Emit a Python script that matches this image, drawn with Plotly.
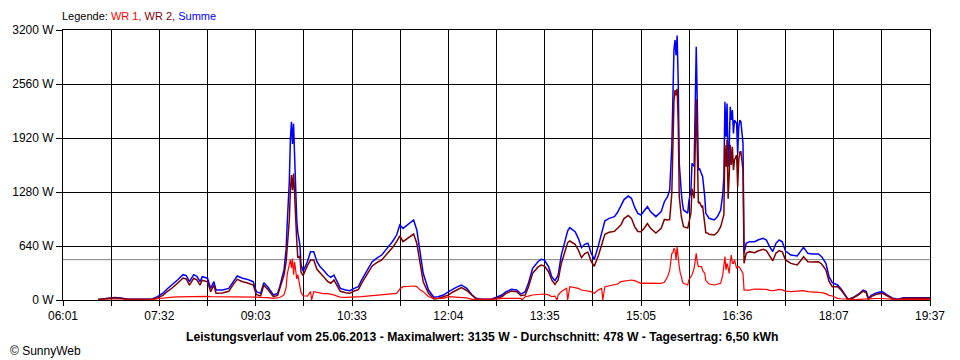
import plotly.graph_objects as go

# ---- data ----
times = ["06:34","06:43","06:50","06:55","07:02","07:16","07:25","07:30","07:35","07:39",
         "07:44","07:49","07:54","07:57","08:00","08:04","08:07","08:10","08:12","08:17",
         "08:20","08:23","08:25","08:31","08:37","08:41","08:45","08:50","08:54","09:00",
         "09:03","09:07","09:10","09:14","09:19","09:23","09:25","09:29","09:31","09:32",
         "09:34","09:35","09:36","09:37","09:38","09:39","09:40","09:41","09:42","09:44",
         "09:45","09:47","09:51","09:54","09:55","09:57","10:00","10:03","10:06","10:10",
         "10:13","10:16","10:19","10:22","10:27","10:31","10:35","10:39","10:42","10:47",
         "10:52","10:56","11:01","11:06","11:11","11:15","11:18","11:21","11:25","11:28",
         "11:31","11:34","11:37","11:40","11:45","11:50","11:54","11:59","12:04","12:08",
         "12:11","12:16","12:21","12:26","12:30","12:35","12:44","12:49","12:54","12:58",
         "13:03","13:08","13:12","13:13","13:16","13:19","13:23","13:28","13:31","13:34",
         "13:38","13:41","13:44","13:46","13:47","13:50","13:55","13:56","13:58","14:03",
         "14:06","14:09","14:12","14:15","14:18","14:21","14:25","14:28","14:29","14:31",
         "14:35","14:40","14:43","14:46","14:49","14:53","14:56","14:59","15:02","15:05",
         "15:08","15:11","15:14","15:19","15:24","15:27","15:30","15:32","15:34","15:35",
         "15:36","15:37","15:38","15:39","15:40","15:41","15:42","15:43","15:44","15:45",
         "15:49","15:50","15:52","15:53","15:55","15:57","15:58","15:59","16:00","16:02",
         "16:03","16:05","16:06","16:08","16:09","16:14","16:17","16:20","16:22","16:23",
         "16:24","16:25","16:26","16:27","16:28","16:29","16:30","16:31","16:32","16:33",
         "16:35","16:36","16:37","16:38","16:39","16:41","16:42","16:44","16:47","16:52",
         "16:55","17:00","17:03","17:06","17:09","17:12","17:15","17:18","17:21","17:26",
         "17:32","17:35","17:38","17:42","17:46","17:52","17:55","17:59","18:02","18:05",
         "18:10","18:13","18:17","18:20","18:25","18:30","18:34","18:37","18:39","18:42",
         "18:47","18:52","18:57","19:02","19:07","19:12","19:18","19:28","19:37"]

wr1 = [0,0,3,3,0,0,2,15,25,30,
       35,38,40,40,40,42,42,40,42,42,
       40,40,38,35,35,38,40,42,42,40,
       35,30,30,28,20,25,30,60,150,300,
       450,480,380,490,300,450,350,250,300,130,
       90,50,47,99,0,99,90,80,75,75,
       70,60,45,35,32,32,32,35,39,45,
       50,55,59,65,72,79,130,158,160,166,
       166,158,120,99,39,20,20,20,39,35,
       32,32,25,8,8,5,5,10,20,20,
       20,20,20,0,39,45,59,65,68,71,
       60,39,45,0,59,100,138,0,158,150,
       138,118,110,105,99,80,120,138,0,158,
       166,175,190,217,225,230,237,230,215,197,
       200,200,197,195,197,210,276,350,553,560,
       612,593,474,632,474,395,316,280,217,197,
       178,237,276,300,375,553,450,395,395,395,
       350,316,230,197,190,178,185,197,300,450,
       514,356,435,380,316,450,533,435,435,474,
       375,395,395,380,356,316,118,118,118,130,
       130,130,126,115,110,118,126,120,105,99,
       105,110,110,99,95,92,87,75,55,47,
       20,15,10,5,5,8,12,14,14,16,
       18,18,12,6,4,8,8,8,8]

wr2 = [5,15,27,22,8,8,10,25,55,100,
       145,202,260,250,177,258,238,177,234,216,
       98,177,80,83,103,179,244,216,205,177,
       63,49,175,122,39,54,128,295,450,600,
       950,1300,1480,1300,1500,1250,914,700,500,520,
       330,290,407,474,474,474,364,315,280,221,
       199,236,172,103,86,79,106,123,198,310,
       404,439,474,547,619,691,759,691,729,762,
       782,672,433,217,79,12,19,39,60,95,
       118,146,113,51,12,5,5,22,39,79,
       106,98,51,55,60,152,316,389,414,403,
       335,237,184,220,237,433,652,680,699,660,
       593,502,550,567,461,400,530,662,720,780,
       802,813,850,889,965,1002,968,870,812,810,
       850,906,850,793,850,955,948,953,1264,1849,
       2351,2487,2426,2503,2133,1225,1084,984,929,870,
       852,928,1028,1320,1205,2380,1861,1146,1165,1106,
       1112,909,797,793,778,770,803,870,964,1011,
       1836,1579,1895,1200,1484,1841,1600,1817,1540,1659,
       1718,1343,1659,1753,1757,1541,435,554,573,561,
       581,601,585,517,465,554,585,570,475,434,
       416,463,514,454,450,453,427,359,221,158,
       158,123,49,3,27,63,106,85,6,43,
       69,81,47,14,4,20,20,20,20]

summe = [5,15,30,25,8,8,12,40,80,130,
         180,240,300,290,217,300,280,217,276,258,
         138,217,118,118,138,217,284,258,247,217,
         98,79,205,150,59,79,158,355,600,900,
         1400,1900,2113,1850,2090,1700,1264,950,800,650,
         420,340,454,573,573,573,454,395,355,296,
         269,296,217,138,118,111,138,158,237,355,
         454,494,533,612,691,770,889,849,889,928,
         948,830,553,316,118,32,39,59,99,130,
         150,178,138,59,20,10,10,32,59,99,
         126,118,71,75,99,197,375,454,482,474,
         395,276,229,270,296,533,790,820,857,810,
         731,620,660,672,560,480,650,800,870,938,
         968,988,1040,1106,1190,1232,1205,1100,1027,1007,
         1050,1106,1047,988,1047,1165,1224,1303,1817,2409,
         2963,3080,2900,3135,2607,1620,1400,1264,1146,1067,
         1030,1165,1304,1620,1580,3002,2311,1541,1560,1501,
         1462,1225,1027,990,968,948,988,1067,1264,1461,
         2350,1935,2330,1580,1800,2291,2133,2252,1975,2133,
         2093,1738,2054,2133,2113,1857,553,672,691,691,
         711,731,711,632,575,672,711,690,580,533,
         521,573,624,553,545,545,514,434,276,205,
         178,138,59,8,32,71,118,99,20,59,
         87,99,59,20,8,28,28,28,28]

average_w = 478
y_ticks = [0, 640, 1280, 1920, 2560, 3200]
y_labels = ["0 W", "640 W", "1280 W", "1920 W", "2560 W", "3200 W"]
x_labels = ["06:01", "", "07:32", "", "09:03", "", "10:33", "", "12:04", "",
            "13:35", "", "15:05", "", "16:36", "", "18:07", "", "19:37"]
title_text = ("Leistungsverlauf vom 25.06.2013 - Maximalwert: 3135 W - "
              "Durchschnitt: 478 W - Tagesertrag: 6,50 kWh")


def to_min(s):
    h, m = s.split(":")
    return int(h) * 60 + int(m)


x = [to_min(t) for t in times]
x_start, x_end = to_min(x_labels[0]), to_min(x_labels[-1])
n_grid = len(x_labels) - 1
x_ticks = [x_start + i * (x_end - x_start) / n_grid for i in range(n_grid + 1)]

FONT = "Liberation Sans, Arial, sans-serif"

fig = go.Figure()
fig.add_trace(go.Scatter(x=x, y=summe, mode="lines", name="Summe",
                         line=dict(color="#0000FF", width=1.5)))
fig.add_trace(go.Scatter(x=x, y=wr2, mode="lines", name="WR 2",
                         line=dict(color="#800000", width=1.5)))
fig.add_trace(go.Scatter(x=x, y=wr1, mode="lines", name="WR 1",
                         line=dict(color="#FF0000", width=1.2)))

fig.add_shape(type="line", xref="x", yref="y", x0=x_start, x1=x_end,
              y0=average_w, y1=average_w, line=dict(color="#808080", width=1),
              layer="below")

fig.update_layout(
    width=960, height=360,
    margin=dict(l=60, r=30, t=30, b=60),
    paper_bgcolor="white", plot_bgcolor="white",
    showlegend=False,
    font=dict(family=FONT, size=11, color="black"),
    xaxis=dict(range=[x_start, x_end], tickmode="array", tickvals=x_ticks,
               ticktext=x_labels, showgrid=True, gridcolor="black", gridwidth=1,
               showline=True, linecolor="black", linewidth=1, mirror=True,
               ticks="outside", ticklen=5, tickcolor="black", zeroline=False,
               tickfont=dict(family=FONT, size=12)),
    yaxis=dict(range=[0, 3200], tickmode="array", tickvals=y_ticks,
               ticktext=y_labels, showgrid=True, gridcolor="black", gridwidth=1,
               showline=True, linecolor="black", linewidth=1, mirror=True,
               ticks="outside", ticklen=6, tickcolor="black", zeroline=False,
               tickfont=dict(family=FONT, size=12)),
    annotations=[
        dict(xref="paper", yref="paper", x=-0.004, y=1.052, xanchor="left", yanchor="middle",
             showarrow=False, font=dict(family=FONT, size=11),
             text=("Legende: <span style='color:#FF0000'>WR 1, </span>"
                   "<span style='color:#800000'>WR 2, </span>"
                   "<span style='color:#0000FF'>Summe</span>")),
        dict(xref="paper", yref="paper", x=0.4828, y=-0.137, xanchor="center",
             yanchor="middle", showarrow=False,
             font=dict(family=FONT, size=12.2, color="black"),
             text="<b>" + title_text + "</b>"),
        dict(xref="paper", yref="paper", x=-0.063, y=-0.189, xanchor="left",
             yanchor="middle", showarrow=False, font=dict(family=FONT, size=12),
             text="© SunnyWeb"),
    ],
)

fig.write_html("out.html", config={"displayModeBar": False},
               post_script="document.body.style.margin='0';document.body.style.overflow='hidden';")
